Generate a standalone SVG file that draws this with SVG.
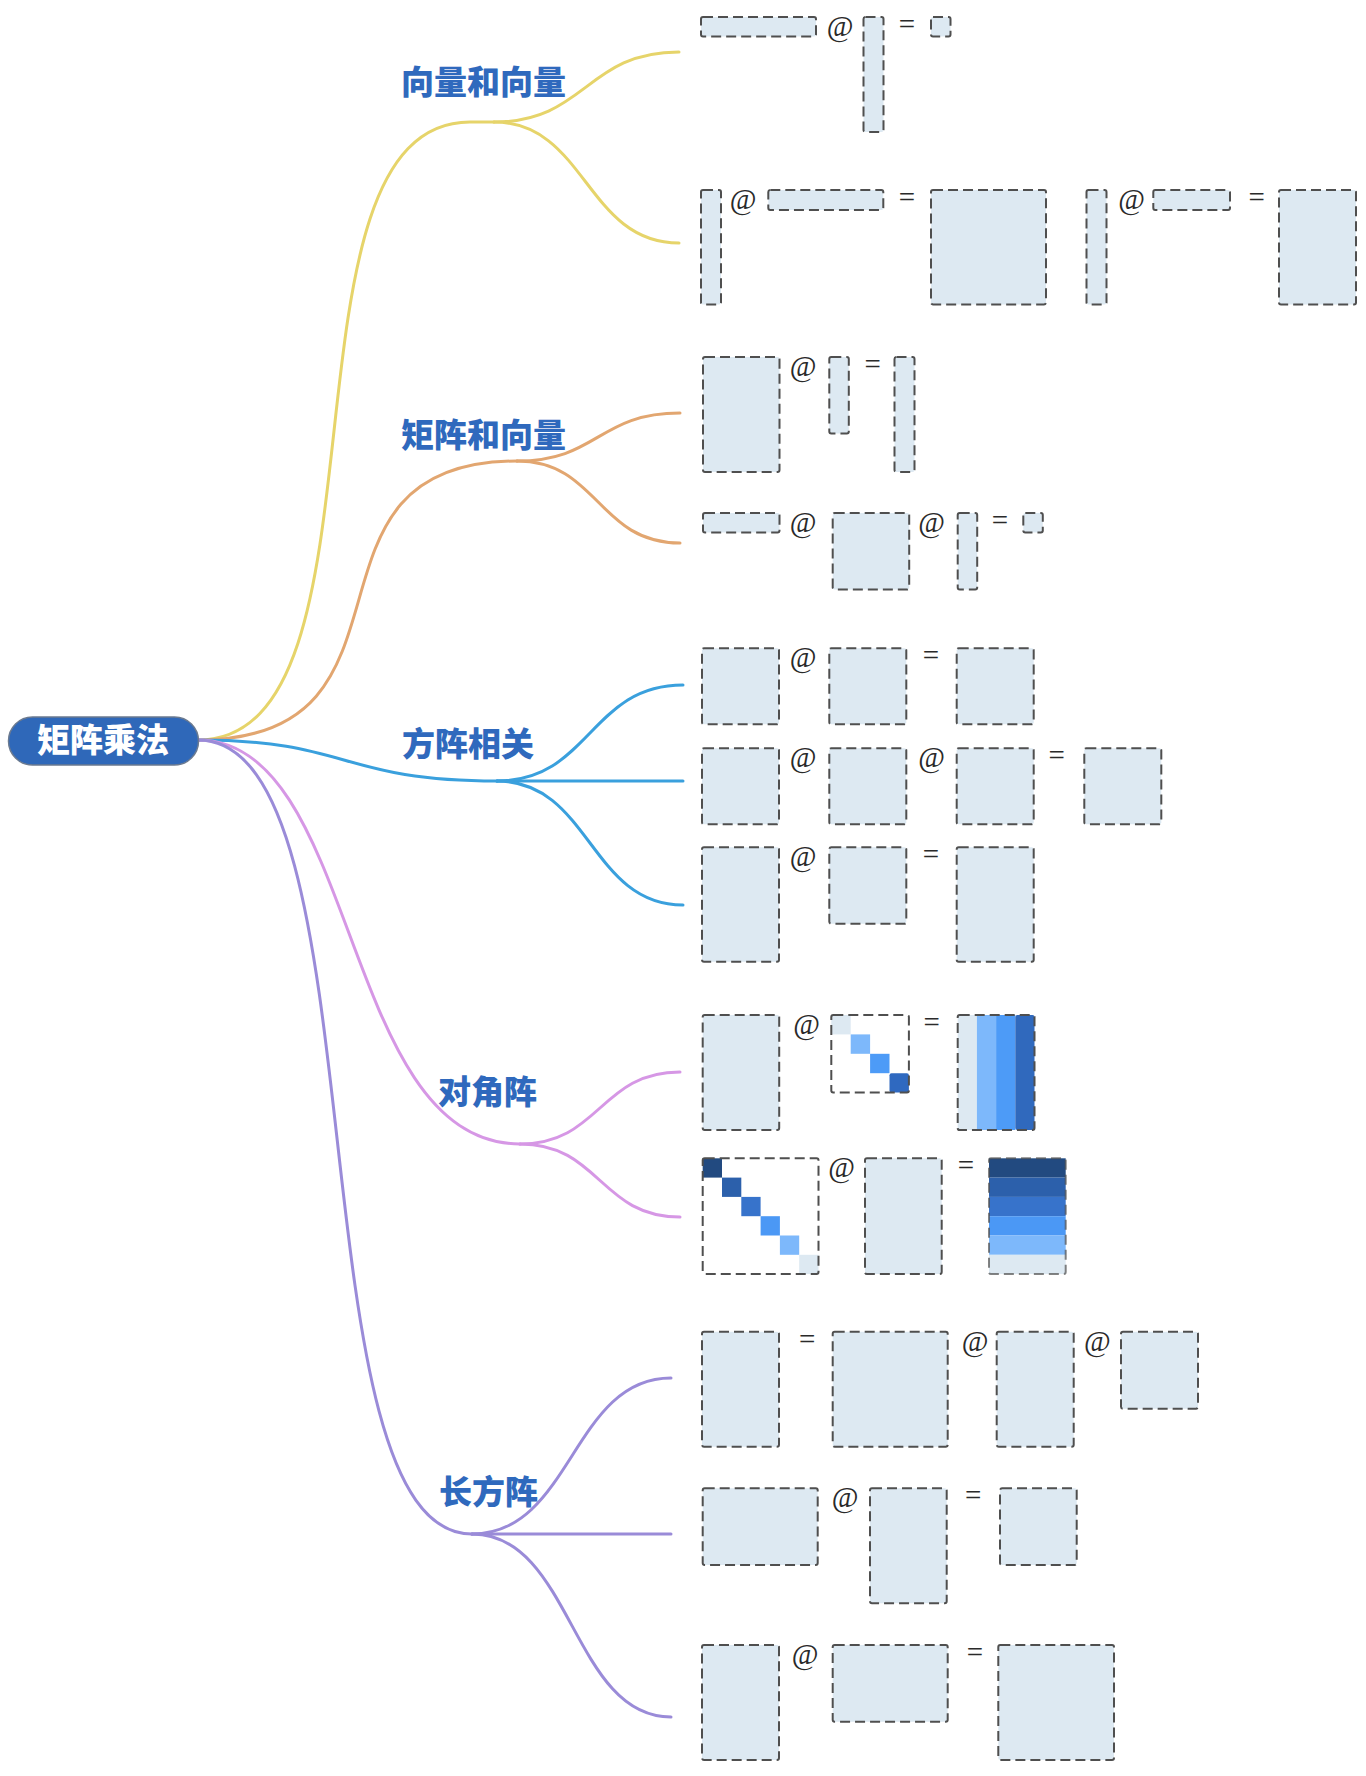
<svg xmlns="http://www.w3.org/2000/svg" width="1366" height="1776" viewBox="0 0 1366 1776">
<style>
.m{fill:#dde9f2;stroke:#4f4f4f;stroke-width:2;stroke-dasharray:10 5}
.mw{fill:none;stroke:#4f4f4f;stroke-width:2;stroke-dasharray:10 5}
.op{font-family:"Liberation Serif","Times New Roman",serif;font-size:29px;fill:#2a2a2a;text-anchor:middle}
.eq{font-family:"Liberation Serif","Times New Roman",serif;font-size:29px;fill:#2a2a2a;text-anchor:middle}
.lbl{font-family:"Noto Sans CJK SC","Noto Sans",sans-serif;font-weight:900;font-size:33px;fill:#2f69bd}
.root{font-family:"Noto Sans CJK SC","Noto Sans",sans-serif;font-weight:900;font-size:33px;fill:#fff;text-anchor:middle}
.c{fill:none;stroke-width:3;stroke-linecap:round}
.y{stroke:#e6d46a}.o{stroke:#e2a670}.b{stroke:#3aa0dd}.p{stroke:#d697e5}.v{stroke:#9a8bd8}
</style>
<rect width="1366" height="1776" fill="#fff"/>
<g id="connectors">
<path class="c y" d="M198,740 C402,740 266,122 470,122 L494,122"/>
<path class="c y" d="M494,122 C586,122 586,52 679,52"/>
<path class="c y" d="M494,122 C586,122 586,243 679,243"/>
<path class="c o" d="M198,740 C439,740 279,461 517,461"/>
<path class="c o" d="M517,461 C598,461 598,413 680,413"/>
<path class="c o" d="M517,461 C598,461 598,543 680,543"/>
<path class="c b" d="M198,740 C350,740 340,781 497,781"/>
<path class="c b" d="M497,781 C590,781 590,685 683,685"/>
<path class="c b" d="M497,781 L683,781"/>
<path class="c b" d="M497,781 C590,781 590,905 683,905"/>
<path class="c p" d="M198,740 C360,740 340,1144 520,1144"/>
<path class="c p" d="M520,1144 C600,1144 600,1072 680,1072"/>
<path class="c p" d="M520,1144 C600,1144 600,1217 680,1217"/>
<path class="c v" d="M198,740 C385,740 290,1534 472,1534"/>
<path class="c v" d="M472,1534 C572,1534 572,1378 671,1378"/>
<path class="c v" d="M472,1534 L671,1534"/>
<path class="c v" d="M472,1534 C572,1534 572,1717 671,1717"/>
</g>
<g id="root">
<rect x="8.5" y="717" width="190" height="48" rx="24" fill="#2f68b9" stroke="#6b7a90" stroke-width="1.5"/>
<text class="root" x="103" y="752">矩阵乘法</text>
</g>
<g id="label-vv"><text class="lbl" x="401" y="94">向量和向量</text></g>
<g id="label-mv"><text class="lbl" x="401" y="447">矩阵和向量</text></g>
<g id="label-sq"><text class="lbl" x="402" y="756">方阵相关</text></g>
<g id="label-diag"><text class="lbl" x="438" y="1104">对角阵</text></g>
<g id="label-rect"><text class="lbl" x="439" y="1504">长方阵</text></g>

<g id="vv-row1">
<rect class="m" x="701" y="17" width="115" height="19.5" rx="2"/>
<text class="op" x="840" y="36">@</text>
<rect class="m" x="863.5" y="17" width="20" height="115" rx="2"/>
<text class="eq" x="907" y="34">=</text>
<rect class="m" x="931" y="17" width="19.5" height="19.5" rx="2"/>
</g>
<g id="vv-row2">
<rect class="m" x="701" y="190" width="20" height="114.5" rx="2"/>
<text class="op" x="743" y="209">@</text>
<rect class="m" x="768.3" y="190" width="115" height="20" rx="2"/>
<text class="eq" x="907" y="207">=</text>
<rect class="m" x="931" y="190" width="115" height="114.5" rx="2"/>
<rect class="m" x="1086.5" y="190" width="20" height="114.5" rx="2"/>
<text class="op" x="1131.7" y="209">@</text>
<rect class="m" x="1153.3" y="190" width="76.7" height="20" rx="2"/>
<text class="eq" x="1256.7" y="207">=</text>
<rect class="m" x="1279" y="190" width="77" height="114.5" rx="2"/>
</g>
<g id="mv-row1">
<rect class="m" x="703" y="357" width="76.5" height="115" rx="2"/>
<text class="op" x="803" y="376">@</text>
<rect class="m" x="829.3" y="357" width="19.5" height="76.5" rx="2"/>
<text class="eq" x="872.7" y="374">=</text>
<rect class="m" x="894.5" y="357" width="20" height="115" rx="2"/>
</g>
<g id="mv-row2">
<rect class="m" x="703" y="513" width="76.5" height="19.5" rx="2"/>
<text class="op" x="803" y="532">@</text>
<rect class="m" x="832.7" y="513" width="76.5" height="76.5" rx="2"/>
<text class="op" x="931.7" y="532">@</text>
<rect class="m" x="957.7" y="513" width="19.5" height="76.5" rx="2"/>
<text class="eq" x="1000" y="530">=</text>
<rect class="m" x="1023.3" y="513" width="19.5" height="19.5" rx="2"/>
</g>
<g id="sq-row1">
<rect class="m" x="702" y="648.3" width="77" height="76" rx="2"/>
<text class="op" x="803" y="667">@</text>
<rect class="m" x="829.3" y="648.3" width="77" height="76" rx="2"/>
<text class="eq" x="931" y="665">=</text>
<rect class="m" x="956.7" y="648.3" width="77" height="76" rx="2"/>
</g>
<g id="sq-row2">
<rect class="m" x="702" y="748.3" width="77" height="76" rx="2"/>
<text class="op" x="803" y="767">@</text>
<rect class="m" x="829.3" y="748.3" width="77" height="76" rx="2"/>
<text class="op" x="931.7" y="767">@</text>
<rect class="m" x="956.7" y="748.3" width="77" height="76" rx="2"/>
<text class="eq" x="1056.7" y="765">=</text>
<rect class="m" x="1084.3" y="748.3" width="77" height="76" rx="2"/>
</g>
<g id="sq-row3">
<rect class="m" x="702" y="847.3" width="77" height="114.5" rx="2"/>
<text class="op" x="803" y="866">@</text>
<rect class="m" x="829.3" y="847.3" width="77" height="76.5" rx="2"/>
<text class="eq" x="931" y="864">=</text>
<rect class="m" x="956.7" y="847.3" width="77" height="114.5" rx="2"/>
</g>
<g id="diag-row1">
<rect class="m" x="702.7" y="1015" width="76.5" height="115" rx="2"/>
<text class="op" x="806.7" y="1034">@</text>
<rect x="831.3" y="1015" width="19.4" height="19.4" fill="#dde9f2"/>
<rect x="850.7" y="1034.4" width="19.4" height="19.4" fill="#7db8fb"/>
<rect x="870.1" y="1053.8" width="19.4" height="19.4" fill="#4d9bf7"/>
<rect x="889.5" y="1073.2" width="19.4" height="19.4" rx="2" fill="#2f69c0"/>
<rect class="mw" x="831.3" y="1015" width="77.6" height="77.6" rx="2"/>
<text class="eq" x="931.7" y="1032">=</text>
<rect x="957.7" y="1015" width="19.2" height="115" fill="#dde9f2"/>
<rect x="976.9" y="1015" width="19.2" height="115" fill="#7db8fb"/>
<rect x="996.1" y="1015" width="19.2" height="115" fill="#4d9bf7"/>
<rect x="1015.3" y="1015" width="19.2" height="115" rx="2" fill="#3069bd"/>
<rect class="mw" x="957.7" y="1015" width="76.8" height="115" rx="2"/>
</g>
<g id="diag-row2">
<rect x="702.7" y="1158.3" width="19.3" height="19.3" fill="#224a80"/>
<rect x="722" y="1177.6" width="19.3" height="19.3" fill="#2c60ab"/>
<rect x="741.3" y="1196.9" width="19.3" height="19.3" fill="#3773cb"/>
<rect x="760.6" y="1216.2" width="19.3" height="19.3" fill="#4b98f5"/>
<rect x="779.9" y="1235.5" width="19.3" height="19.3" fill="#7db8fb"/>
<rect x="799.2" y="1254.8" width="19.3" height="19.3" fill="#dde9f2"/>
<rect class="mw" x="702.7" y="1158.3" width="115.8" height="115.8" rx="2"/>
<text class="op" x="841.7" y="1177">@</text>
<rect class="m" x="865" y="1158.3" width="76.7" height="115.8" rx="2"/>
<text class="eq" x="966" y="1175">=</text>
<rect x="989" y="1158.3" width="76.7" height="19.3" fill="#224a80"/>
<rect x="989" y="1177.6" width="76.7" height="19.3" fill="#2c60ab"/>
<rect x="989" y="1196.9" width="76.7" height="19.3" fill="#3773cb"/>
<rect x="989" y="1216.2" width="76.7" height="19.3" fill="#4b98f5"/>
<rect x="989" y="1235.5" width="76.7" height="19.3" fill="#7db8fb"/>
<rect x="989" y="1254.8" width="76.7" height="19.3" fill="#dde9f2"/>
<rect class="mw" x="989" y="1158.3" width="76.7" height="115.8" rx="2" stroke-opacity="0.7"/>
</g>
<g id="rect-row1">
<rect class="m" x="702" y="1331.7" width="77" height="115" rx="2"/>
<text class="eq" x="807.3" y="1349">=</text>
<rect class="m" x="832.7" y="1331.7" width="115" height="115" rx="2"/>
<text class="op" x="975" y="1351">@</text>
<rect class="m" x="996.7" y="1331.7" width="77" height="115" rx="2"/>
<text class="op" x="1097.3" y="1351">@</text>
<rect class="m" x="1121" y="1331.7" width="77" height="77" rx="2"/>
</g>
<g id="rect-row2">
<rect class="m" x="702.7" y="1488.3" width="115" height="76.7" rx="2"/>
<text class="op" x="845" y="1507">@</text>
<rect class="m" x="870" y="1488.3" width="76.7" height="115" rx="2"/>
<text class="eq" x="973.3" y="1505">=</text>
<rect class="m" x="1000" y="1488.3" width="76.7" height="76.7" rx="2"/>
</g>
<g id="rect-row3">
<rect class="m" x="702" y="1645" width="77" height="115" rx="2"/>
<text class="op" x="805" y="1664">@</text>
<rect class="m" x="832.7" y="1645" width="115" height="76.7" rx="2"/>
<text class="eq" x="975" y="1662">=</text>
<rect class="m" x="998.3" y="1645" width="115.7" height="115" rx="2"/>
</g>
</svg>
